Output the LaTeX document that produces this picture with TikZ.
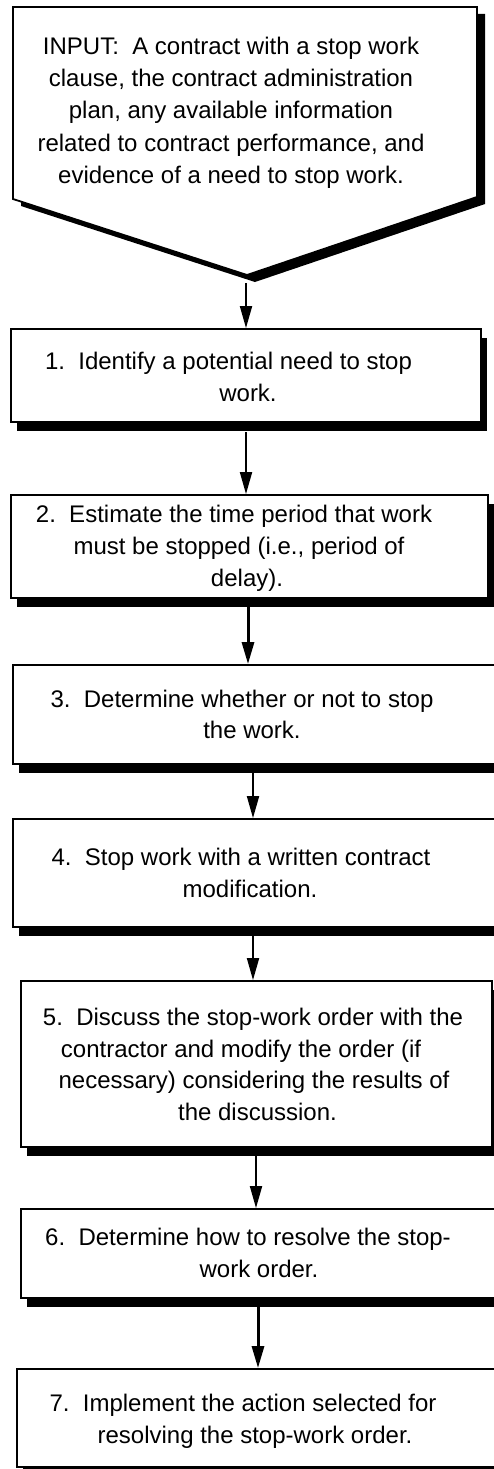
\documentclass[tikz,border=0pt]{standalone}
\usepackage{fontspec}
\setmainfont{Liberation Sans}
\usetikzlibrary{arrows.meta,shadows}
\begin{document}
\begin{tikzpicture}[x=1pt,y=-1pt,
  box/.style={draw, line width=1.8pt, fill=white, rectangle, inner sep=0pt,
    general shadow={fill=black, shadow xshift=6pt, shadow yshift=-9pt}},
  tl/.style={anchor=base, inner sep=0pt, font=\fontsize{24}{32}\selectfont},
  arr/.style={-{Triangle[length=22pt,width=12pt]}, line width=1.8pt},
  tarr/.style={-{Triangle[length=22pt,width=12pt]}, line width=3pt}]
\useasboundingbox[fill=white] (0,0) rectangle (494,1469);
% input shape
\fill[black] (21,14) -- (485,14) -- (485,204) -- (255,282) -- (21,206) -- cycle;
\draw[line width=1.8pt, fill=white] (13,7) -- (477,7) -- (477,197) -- (247,275) -- (13,199) -- cycle;
\node[tl] (in1) at (231,55) {INPUT:\ \ A contract with a stop work};
\node[tl] (in2) at (231,87) {clause, the contract administration};
\node[tl] (in3) at (231,119) {plan, any available information};
\node[tl] (in4) at (231,151) {related to contract performance, and};
\node[tl] (in5) at (231,183) {evidence of a need to stop work.};
% boxes
\node[box, minimum width=470pt, minimum height=93pt] (b1) at (246,375.5) {};
\node[box, minimum width=477pt, minimum height=103pt] (b2) at (249.5,546.5) {};
\node[box, minimum width=487pt, minimum height=99pt] (b3) at (256.5,714.5) {};
\node[box, minimum width=487pt, minimum height=108pt] (b4) at (256.5,873) {};
\node[box, minimum width=471pt, minimum height=166pt] (b5) at (256.5,1064) {};
\node[box, minimum width=479pt, minimum height=89pt] (b6) at (260.5,1253.5) {};
\node[box, minimum width=483pt, minimum height=98pt] (b7) at (258.5,1418) {};
% texts
\node[tl] (t1a) at (228.5,369) {1.\ \ Identify a potential need to stop};
\node[tl] (t1b) at (248,401) {work.};
\node[tl] (t2a) at (234,522) {2.\ \ Estimate the time period that work};
\node[tl] (t2b) at (239,554) {must be stopped (i.e., period of};
\node[tl] (t2c) at (247,586) {delay).};
\node[tl] (t3a) at (242,707) {3.\ \ Determine whether or not to stop};
\node[tl] (t3b) at (252,738) {the work.};
\node[tl] (t4a) at (241,865) {4.\ \ Stop work with a written contract};
\node[tl] (t4b) at (250,897) {modification.};
\node[tl] (t5a) at (253,1025) {5.\ \ Discuss the stop-work order with the};
\node[tl] (t5b) at (241,1057) {contractor and modify the order (if};
\node[tl] (t5c) at (254,1088) {necessary) considering the results of};
\node[tl] (t5d) at (257.5,1120) {the discussion.};
\node[tl] (t6a) at (248,1245) {6.\ \ Determine how to resolve the stop-};
\node[tl] (t6b) at (259,1277) {work order.};
\node[tl] (t7a) at (243,1411) {7.\ \ Implement the action selected for};
\node[tl] (t7b) at (255,1443) {resolving the stop-work order.};
% connectors
\coordinate (s0) at (246,283);
\coordinate (s1) at (246,432);
\coordinate (s2) at (248,607);
\coordinate (s3) at (253,773);
\coordinate (s4) at (253,935);
\coordinate (s5) at (256,1156);
\coordinate (s6) at (258,1307);
\draw[arr] (s0) -- (s0 |- b1.north);
\draw[arr] (s1) -- (s1 |- b2.north);
\draw[tarr] (s2) -- (s2 |- b3.north);
\draw[arr] (s3) -- (s3 |- b4.north);
\draw[arr] (s4) -- (s4 |- b5.north);
\draw[arr] (s5) -- (s5 |- b6.north);
\draw[tarr] (s6) -- (s6 |- b7.north);
\end{tikzpicture}
\end{document}
